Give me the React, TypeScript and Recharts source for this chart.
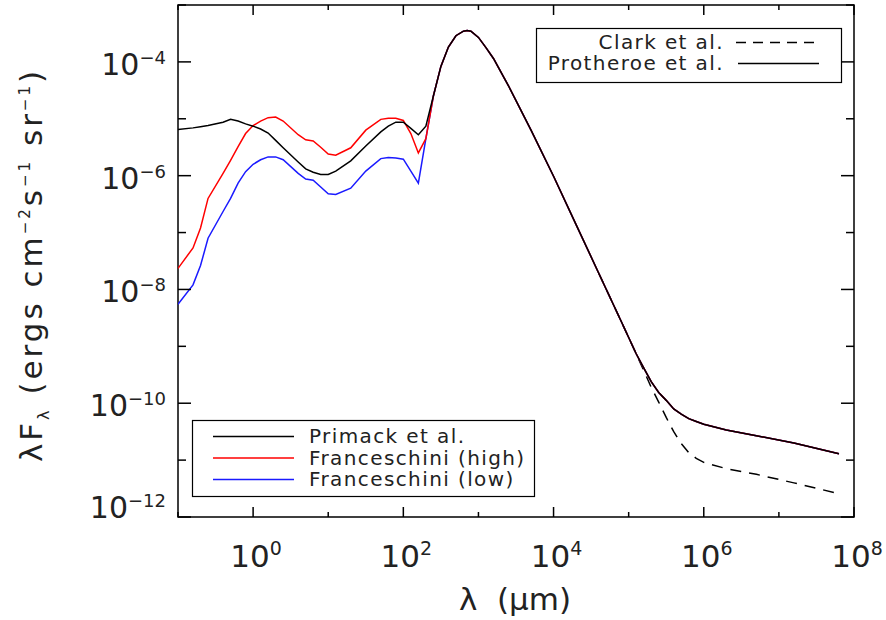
import React from 'react';
import { LineChart, Line, XAxis, YAxis, ReferenceArea } from 'recharts';

// log10(lambda / um) grid for the infrared/optical part, where the models differ
const irLogLambda = [-1.0, -0.8, -0.7, -0.6, -0.4, -0.3, -0.2, -0.1, 0.0, 0.1, 0.2, 0.3, 0.4, 0.6, 0.7, 0.8, 0.9, 1.0, 1.1, 1.3, 1.5, 1.7, 1.8, 1.9, 2.0, 2.1, 2.2, 2.3];
// log10(lambda F_lambda)
const primackIR = [-5.19, -5.16, -5.14, -5.12, -5.06, -5.01, -5.04, -5.09, -5.13, -5.18, -5.25, -5.38, -5.51, -5.76, -5.88, -5.94, -5.98, -5.98, -5.92, -5.74, -5.48, -5.23, -5.13, -5.06, -5.06, -5.17, -5.28, -5.13];
const highIR = [-7.63, -7.27, -6.92, -6.40, -5.96, -5.73, -5.49, -5.26, -5.12, -5.04, -4.98, -4.97, -5.04, -5.28, -5.37, -5.39, -5.50, -5.62, -5.64, -5.51, -5.20, -5.01, -4.99, -4.99, -5.03, -5.26, -5.60, -5.35];
const lowIR = [-8.26, -7.92, -7.58, -7.10, -6.63, -6.40, -6.13, -5.93, -5.80, -5.72, -5.67, -5.67, -5.72, -5.96, -6.06, -6.08, -6.20, -6.32, -6.33, -6.22, -5.92, -5.70, -5.68, -5.69, -5.71, -5.92, -6.13, -5.35];

// CMB + radio part, shared by all solid curves (Protheroe et al.)
const tailLogLambda = [2.4, 2.5, 2.6, 2.7, 2.8, 2.85, 2.9, 3.0, 3.1, 3.2, 3.4, 3.7, 4.0, 4.3, 4.6, 4.9, 5.1, 5.2, 5.3, 5.4, 5.5, 5.6, 5.7, 5.8, 5.9, 6.0, 6.3, 6.7, 7.2, 7.8];
const protheroeTail = [-4.60, -4.08, -3.74, -3.54, -3.46, -3.45, -3.46, -3.57, -3.75, -3.94, -4.42, -5.20, -6.01, -6.86, -7.71, -8.56, -9.13, -9.38, -9.62, -9.81, -9.95, -10.10, -10.19, -10.27, -10.32, -10.37, -10.47, -10.57, -10.70, -10.89];
const clarkTail = [null, null, null, null, null, null, null, null, null, null, null, null, null, null, -7.71, -8.56, -9.13, -9.42, -9.72, -9.98, -10.25, -10.50, -10.71, -10.87, -10.97, -11.04, -11.15, -11.25, -11.40, -11.59];

const xTicks = [0.1, 1, 10, 100, 1e3, 1e4, 1e5, 1e6, 1e7, 1e8];
const yTicks = [1e-12, 1e-11, 1e-10, 1e-9, 1e-8, 1e-7, 1e-6, 1e-5, 1e-4, 1e-3];

const modelSeries = [
  { key: 'primack', name: 'Primack et al.', color: '#000000' },
  { key: 'high', name: 'Franceschini (high)', color: '#ff0000' },
  { key: 'low', name: 'Franceschini (low)', color: '#1a1aff' },
];

const rows = [
  ...irLogLambda.map((l, i) => ({
    lam: 10 ** l,
    primack: 10 ** primackIR[i],
    high: 10 ** highIR[i],
    low: 10 ** lowIR[i],
    clark: null as number | null,
  })),
  ...tailLogLambda.map((l, i) => ({
    lam: 10 ** l,
    primack: 10 ** protheroeTail[i],
    high: 10 ** protheroeTail[i],
    low: 10 ** protheroeTail[i],
    clark: clarkTail[i] === null ? null : 10 ** (clarkTail[i] as number),
  })),
];

const FONT = '"DejaVu Sans", sans-serif';
const TXT = '#222';
const PLOT = { left: 178, right: 854, top: 5, bottom: 517 };

const expLabel = (exp: number) => String(exp).replace('-', '\u2212');

const XTick = (props: any) => {
  const { x, payload } = props;
  const exp = Math.round(Math.log10(payload.value));
  const major = exp % 2 === 0;
  const len = major ? 10 : 5;
  return (
    <g>
      <line x1={x} x2={x} y1={PLOT.bottom} y2={PLOT.bottom - len} stroke="#000" strokeWidth={1.5} />
      <line x1={x} x2={x} y1={PLOT.top} y2={PLOT.top + len} stroke="#000" strokeWidth={1.5} />
      {major && (
        <text x={x + 3} y={567} textAnchor="middle" fontFamily={FONT} fontSize={31} fill={TXT}>
          10<tspan dy={-12} fontSize={19}>{expLabel(exp)}</tspan>
        </text>
      )}
    </g>
  );
};

const YTick = (props: any) => {
  const { y, payload } = props;
  const exp = Math.round(Math.log10(payload.value));
  const major = exp % 2 === 0;
  const len = major ? 13 : 8;
  const base = exp === -12 ? y + 1 : y + 13;
  return (
    <g>
      <line x1={PLOT.left} x2={PLOT.left + len} y1={y} y2={y} stroke="#000" strokeWidth={1.5} />
      <line x1={PLOT.right} x2={PLOT.right - len} y1={y} y2={y} stroke="#000" strokeWidth={1.5} />
      {major && (
        <text x={166} y={base} textAnchor="end" fontFamily={FONT} fontSize={30} fill={TXT}>
          10<tspan dy={-11} fontSize={18}>{expLabel(exp)}</tspan>
        </text>
      )}
    </g>
  );
};

const Overlay = () => (
  <svg width={886} height={620} style={{ position: 'absolute', left: 0, top: 0, pointerEvents: 'none' }}>
    {/* lower-left legend */}
    <rect x={192.5} y={420.5} width={342} height={76} fill="#fff" stroke="#000" strokeWidth={1.2} />
    {modelSeries.map((s, i) => (
      <g key={s.key}>
        <line x1={213} x2={294} y1={436.5 + i * 21.5} y2={436.5 + i * 21.5} stroke={s.color} strokeWidth={1.5} />
        <text x={309} y={443 + i * 21.5} fontFamily={FONT} fontSize={20} letterSpacing={1.4} fill={TXT}>{s.name}</text>
      </g>
    ))}
    {/* upper-right legend */}
    <rect x={536.5} y={28.5} width={305} height={54} fill="#fff" stroke="#000" strokeWidth={1.2} />
    <text x={724} y={49} textAnchor="end" fontFamily={FONT} fontSize={20} letterSpacing={1.4} fill={TXT}>Clark et al.</text>
    <line x1={736} x2={818} y1={42.5} y2={42.5} stroke="#000" strokeWidth={1.3} strokeDasharray="10 7" />
    <text x={724} y={70} textAnchor="end" fontFamily={FONT} fontSize={20} letterSpacing={1.4} fill={TXT}>Protheroe et al.</text>
    <line x1={738} x2={819} y1={63.5} y2={63.5} stroke="#000" strokeWidth={1.3} />
    {/* axis titles */}
    <text x={515} y={610} textAnchor="middle" fontFamily={FONT} fontSize={31} fill={TXT} xmlSpace="preserve">
      λ  (μm)
    </text>
    <text transform="rotate(-90)" x={-265} y={42} textAnchor="middle" fontFamily={FONT} fontSize={31} fill={TXT} letterSpacing={3}>
      λF<tspan dy={7} fontSize={16}>λ</tspan>
      <tspan dy={-7}> (ergs cm</tspan>
      <tspan dy={-12} fontSize={15}>−2</tspan>
      <tspan dy={12}>s</tspan>
      <tspan dy={-12} fontSize={15}>−1</tspan>
      <tspan dy={12}> sr</tspan>
      <tspan dy={-12} fontSize={15}>−1</tspan>
      <tspan dy={12}>)</tspan>
    </text>
  </svg>
);

export default function App() {
  return (
    <div style={{ position: 'absolute', left: 0, top: 0, width: 886, height: 620, background: '#fff' }}>
      <LineChart width={886} height={620} data={rows} margin={{ top: 5, right: 32, bottom: 63, left: 118 }}>
        <XAxis
          dataKey="lam"
          type="number"
          scale="log"
          domain={[0.1, 1e8]}
          ticks={xTicks}
          interval={0}
          tick={(p: any) => <XTick {...p} />}
          tickLine={false}
          axisLine={false}
          height={40}
          allowDataOverflow
        />
        <YAxis
          type="number"
          scale="log"
          domain={[1e-12, 1e-3]}
          ticks={yTicks}
          interval={0}
          tick={(p: any) => <YTick {...p} />}
          tickLine={false}
          axisLine={false}
          width={60}
          allowDataOverflow
        />
        <Line dataKey="clark" stroke="#000" strokeWidth={1.5} strokeDasharray="11 8" dot={false} isAnimationActive={false} />
        <Line dataKey="low" stroke="#1a1aff" strokeWidth={1.5} dot={false} isAnimationActive={false} />
        <Line dataKey="high" stroke="#ff0000" strokeWidth={1.5} dot={false} isAnimationActive={false} />
        <Line dataKey="primack" stroke="#000" strokeWidth={1.5} dot={false} isAnimationActive={false} />
        <ReferenceArea x1={0.1} x2={1e8} y1={1e-12} y2={1e-3} fill="none" stroke="#000" strokeWidth={1.5} ifOverflow="visible" />
      </LineChart>
      <Overlay />
    </div>
  );
}
